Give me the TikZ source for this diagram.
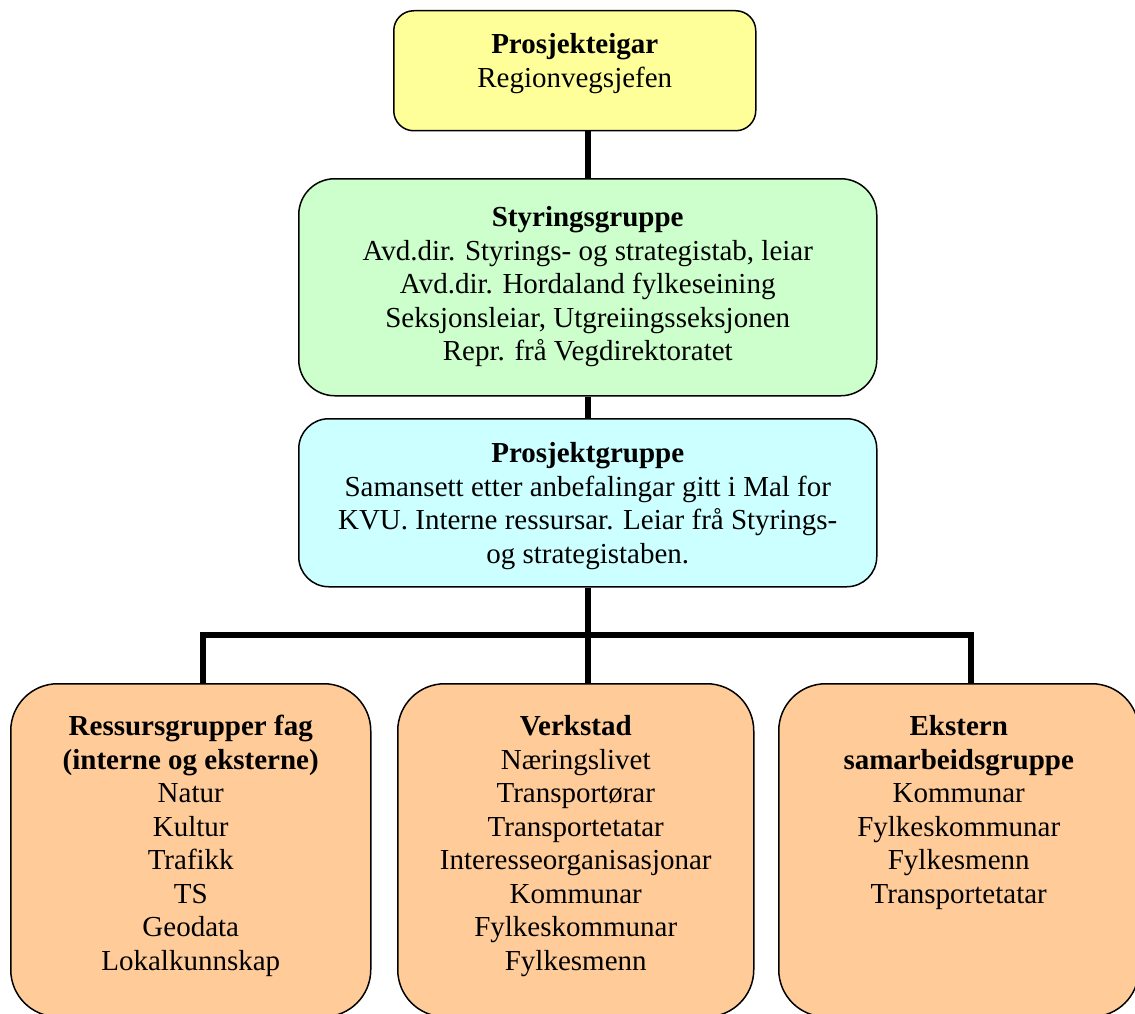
\documentclass[tikz,border=0pt]{standalone}
\usepackage{fontspec}
\setmainfont{Liberation Serif}
\definecolor{eigarfill}{HTML}{FFFF99}
\definecolor{styrfill}{HTML}{CCFFCC}
\definecolor{prosjfill}{HTML}{CCFFFF}
\definecolor{gruppefill}{HTML}{FFCC99}
\begin{document}
\begin{tikzpicture}[x=1pt, y=-1pt,
    font=\fontsize{29}{33.5}\selectfont,
    group/.style={draw, line width=1.5pt, inner sep=0pt, anchor=north west},
    link/.style={line width=5.5pt, line join=miter}]

    \useasboundingbox (0,0) rectangle (1135,1014);

    \node[group, fill=eigarfill, rounded corners=20pt] (eigar) at (393,10)
        {\parbox[c][120pt][t]{362pt}{\centering\rule{0pt}{43pt}\textbf{Prosjekteigar}\\
        Regionvegsjefen}};

    \node[group, fill=styrfill, rounded corners=36pt] (styr) at (298,178)
        {\parbox[c][217pt][t]{578pt}{\centering\rule{0pt}{48pt}\textbf{Styringsgruppe}\\
        Avd.dir. Styrings- og strategistab, leiar\\
        Avd.dir. Hordaland fylkeseining\\
        Seksjonsleiar, Utgreiingsseksjonen\\
        Repr. frå Vegdirektoratet}};

    \node[group, fill=prosjfill, rounded corners=30pt] (prosj) at (298,418)
        {\parbox[c][168pt][t]{578pt}{\centering\rule{0pt}{44pt}\textbf{Prosjektgruppe}\\
        Samansett etter anbefalingar gitt i Mal for\\
        KVU. Interne ressursar. Leiar frå Styrings-\\
        og strategistaben.}};

    % grupper nedst
    \node[group, fill=gruppefill, rounded corners=47pt] (ress) at (10,683)
        {\parbox[c][333pt][t]{360pt}{\centering\rule{0pt}{52pt}\textbf{Ressursgrupper fag}\\
        \textbf{(interne og eksterne)}\\
        Natur\\ Kultur\\ Trafikk\\ TS\\ Geodata\\ Lokalkunnskap}};

    \node[group, fill=gruppefill, rounded corners=47pt] (verk) at (397,683)
        {\parbox[c][333pt][t]{356pt}{\centering\rule{0pt}{52pt}\textbf{Verkstad}\\
        Næringslivet\\ Transportørar\\ Transportetatar\\ Interesseorganisasjonar\\
        Kommunar\\ Fylkeskommunar\\ Fylkesmenn}};

    \node[group, fill=gruppefill, rounded corners=47pt] (ekst) at (778,683)
        {\parbox[c][333pt][t]{360pt}{\centering\rule{0pt}{52pt}\textbf{Ekstern}\\
        \textbf{samarbeidsgruppe}\\
        Kommunar\\ Fylkeskommunar\\ Fylkesmenn\\ Transportetatar}};

    \coordinate (bar) at (prosj.south |- 0,635);

    \draw[link] (styr.north |- eigar.south) -- (styr.north);
    \draw[link] (styr.south) -- (prosj.north);
    \draw[link] (prosj.south) -- (bar);
    \draw[link] ([xshift=12pt]ress.north) |- (bar) -| ([xshift=12pt]ekst.north);
    \draw[link] (bar) -- (bar |- verk.north);
\end{tikzpicture}
\end{document}
